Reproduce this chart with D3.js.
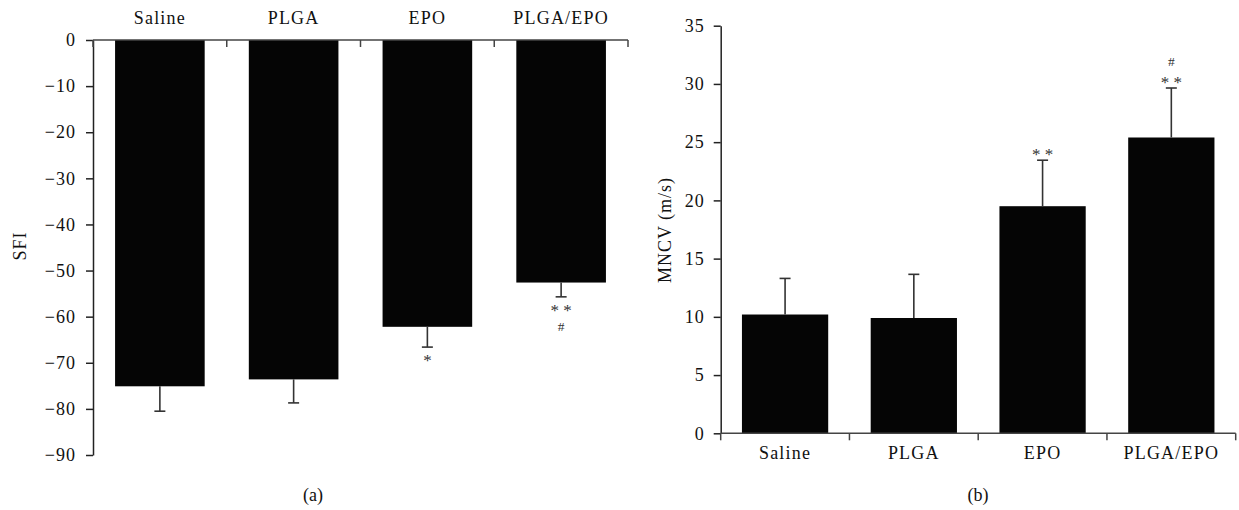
<!DOCTYPE html>
<html><head><meta charset="utf-8">
<script src="https://cdn.jsdelivr.net/npm/d3@7"></script>
<style>
body{margin:0;background:#fff;}
svg text{font-family:"Liberation Serif","Times New Roman",serif;fill:#111;}
</style></head>
<body>
<svg id="c" width="1239" height="510"></svg>
<script>
const categories = ["Saline","PLGA","EPO","PLGA/EPO"];
// Panel (a) SFI
const sfiMean = [-75.1, -73.6, -62.2, -52.6];
const sfiErr  = [5.4, 5.1, 4.4, 3.1];
const sfiMarks = [[], [], ["*"], ["* *","#"]];
const sfiTicks = [0,-10,-20,-30,-40,-50,-60,-70,-80,-90];
// Panel (b) MNCV
const mncvMean = [10.2, 9.9, 19.5, 25.4];
const mncvErr  = [3.1, 3.75, 3.95, 4.25];
const mncvMarks = [[], [], ["* *"], ["* *","#"]];
const mncvTicks = [0,5,10,15,20,25,30,35];

const svg = d3.select("#c");
const FS = 18;
const LS = "1px";

function panel(o){
  const g = svg.append("g");
  const x = d3.scaleBand().domain(categories).range(o.xr).paddingInner(0.33).paddingOuter(0.165);
  const y = d3.scaleLinear().domain(o.dom).range(o.yr);
  const step = x.step();
  const base = y(0);
  // bars
  g.selectAll("rect.bar").data(o.mean).join("rect")
    .attr("x",(d,i)=>x(categories[i])).attr("width",x.bandwidth())
    .attr("y",d=>Math.min(y(d),base)).attr("height",d=>Math.abs(y(d)-base))
    .attr("fill","#050505");
  // error bars
  const sgn = o.dir;
  o.mean.forEach((m,i)=>{
    const cx = x(categories[i]) + x.bandwidth()/2;
    const e = m + sgn*o.err[i];
    g.append("line").attr("x1",cx).attr("x2",cx).attr("y1",y(m)).attr("y2",y(e))
      .attr("stroke","#333").attr("stroke-width",1.6);
    g.append("line").attr("x1",cx-5.5).attr("x2",cx+5.5).attr("y1",y(e)).attr("y2",y(e))
      .attr("stroke","#333").attr("stroke-width",1.6);
    o.marks[i].forEach((s,k)=>{
      const off = k===0 ? 9.5 : (sgn<0 ? 30 : 26);
      const cy = y(e) + (sgn<0?off:-off);
      const isStar = s.indexOf("*")>=0;
      g.append("text").attr("x",cx).attr("y", isStar ? cy+9.5 : cy+4.3)
        .attr("text-anchor","middle").style("fill","#333")
        .style("font-size", isStar?"17px":"13.5px").text(s);
    });
  });
  // y axis
  const ya = g.append("g").attr("transform",`translate(${o.xr[0]},0)`)
    .call(d3.axisLeft(y).tickValues(o.ticks).tickSize(7).tickPadding(o.tp).tickSizeOuter(0));
  ya.select(".domain").attr("stroke","#222").attr("stroke-width",1.5);
  ya.selectAll(".tick line").attr("stroke","#222").attr("stroke-width",1.5);
  ya.selectAll(".tick text").style("font-size",FS+"px").style("letter-spacing",LS)
    .style("font-family",'"Liberation Serif",serif').attr("fill","#111");
  // category axis line at zero
  g.append("line").attr("x1",o.xr[0]).attr("x2",o.xr[1]).attr("y1",base).attr("y2",base)
    .attr("stroke","#444").attr("stroke-width",1.5);
  const bounds = d3.range(categories.length+1).map(i=>o.xr[0]+i*step);
  g.selectAll("line.bt").data(bounds).join("line")
    .attr("x1",d=>d).attr("x2",d=>d).attr("y1",base).attr("y2",base+7)
    .attr("stroke","#444").attr("stroke-width",1.5);
  // category labels
  g.selectAll("text.cat").data(categories).join("text")
    .attr("x",d=>x(d)+x.bandwidth()/2).attr("y",o.catY)
    .attr("text-anchor","middle").style("font-size",FS+"px").style("letter-spacing","1.2px").text(d=>d);
  // y label
  g.append("text").attr("transform",`translate(${o.lab[0]},${o.lab[1]}) rotate(-90)`)
    .attr("text-anchor","middle").attr("dy","0.35em").style("font-size",FS+"px")
    .style("letter-spacing","1px").text(o.ylab);
  // panel letter
  g.append("text").attr("x",o.letter[0]).attr("y",o.letter[1]).attr("text-anchor","middle")
    .style("font-size",FS+"px").text(o.letterT);
}

panel({xr:[93,628], yr:[455,40], dom:[-90,0], mean:sfiMean, err:sfiErr, marks:sfiMarks,
  ticks:sfiTicks, dir:-1, tp:10, catY:24, lab:[20,246], ylab:"SFI", letter:[313,501], letterT:"(a)"});
panel({xr:[720.7,1235.7], yr:[433.3,25.7], dom:[0,35], mean:mncvMean, err:mncvErr, marks:mncvMarks,
  ticks:mncvTicks, dir:1, tp:9, catY:459, lab:[665,230], ylab:"MNCV (m/s)", letter:[978,501], letterT:"(b)"});
</script>
</body></html>
